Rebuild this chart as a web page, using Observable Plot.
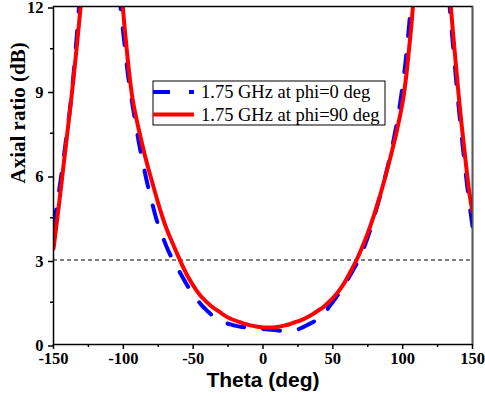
<!DOCTYPE html>
<html>
<head>
<meta charset="utf-8">
<script src="https://cdn.jsdelivr.net/npm/d3@7"></script>
<script src="https://cdn.jsdelivr.net/npm/@observablehq/plot@0.6"></script>
<style>
  html, body { margin: 0; padding: 0; background: #fff; }
  #chart { width: 485px; height: 402px; }
</style>
</head>
<body>
<div id="chart"></div>
<script>
// ---- Data ----
// Axial ratio (dB) vs Theta (deg). NaN separates curve branches that leave the 0–12 dB window.
const phi0Theta = [
  -150, -148, -146, -144, -142, -140, -138, -136, -134, -132, -130.5, NaN,
  -103, -101, -99, -97, -95, -93, -91, -89, -86, -83, -80, -76, -72, -68, -64, -60, -56, -52, -48, -44, -40, -36, -32, -28, -24, -20, -16, -12, -8, -4,
  0, 4, 8, 12, 16, 20, 24, 28, 32, 36, 40, 44, 48, 52, 56, 60, 64, 68, 72, 76, 80, 84, 88, 92, 96, 98, 100, 102, 104, 106, 107, NaN,
  133, 135, 137, 139, 141, 143, 145, 147, 149, 150
];
const phi0AR = [
  4.2, 4.8, 5.45, 6.15, 6.9, 7.65, 8.45, 9.4, 10.55, 11.8, 12.8, NaN,
  12.5, 11.5, 10.6, 9.7, 9.0, 8.37, 7.8, 7.2, 6.45, 5.75, 5.15, 4.4, 3.85, 3.35, 2.95, 2.6, 2.25, 1.92, 1.65, 1.4, 1.2, 1.02, 0.9, 0.8, 0.72, 0.67, 0.63, 0.61, 0.59, 0.57,
  0.55, 0.53, 0.51, 0.49, 0.48, 0.48, 0.52, 0.6, 0.7, 0.8, 0.92, 1.12, 1.38, 1.65, 1.93, 2.25, 2.6, 2.95, 3.4, 3.95, 4.6, 5.3, 6.05, 6.9, 7.9, 8.5, 9.2, 10.0, 11.0, 12.1, 12.6, NaN,
  12.4, 11.2, 10.1, 9.0, 8.0, 7.05, 6.15, 5.3, 4.55, 4.2
];

const phi90Theta = [
  -150, -148, -146, -144, -142, -140, -138, -136, -134, -132, -130, NaN,
  -101, -99, -97, -95, -93, -89, -85, -81, -77, -73, -69, -65, -61, -57, -53, -49, -45, -41, -37, -33, -29, -25, -21, -17, -13, -9, -5, -1,
  3, 7, 11, 15, 19, 23, 27, 31, 35, 39, 43, 47, 51, 55, 59, 63, 67, 71, 75, 79, 83, 87, 91, 95, 98, 100, 102, 104, 106, 108, NaN,
  134, 136, 138, 140, 142, 144, 146, 148, 150
];
const phi90AR = [
  3.4, 4.2, 5.0, 5.85, 6.7, 7.55, 8.4, 9.3, 10.25, 11.25, 12.3, NaN,
  12.4, 11.2, 10.2, 9.3, 8.6, 7.65, 6.8, 6.05, 5.35, 4.68, 4.1, 3.63, 3.17, 2.73, 2.34, 2.02, 1.75, 1.54, 1.36, 1.22, 1.08, 0.96, 0.87, 0.8, 0.73, 0.68, 0.64, 0.61,
  0.6, 0.605, 0.63, 0.67, 0.72, 0.79, 0.86, 0.95, 1.06, 1.19, 1.32, 1.5, 1.7, 1.95, 2.25, 2.62, 3.0, 3.45, 3.95, 4.52, 5.15, 5.85, 6.6, 7.4, 8.1, 8.6, 9.3, 10.2, 11.2, 12.4, NaN,
  12.3, 11.1, 10.0, 8.9, 7.9, 7.0, 6.1, 5.3, 4.7
];

const seriesNames = ["1.75 GHz at phi=0 deg", "1.75 GHz at phi=90 deg"];
const xMajorTicks = [-150, -100, -50, 0, 50, 100, 150];
const xMinorTicks = [-125, -75, -25, 25, 75, 125];
const yMajorTicks = [0, 3, 6, 9, 12];
const yMinorTicks = [1.5, 4.5, 7.5, 10.5];
const thresholdDB = [3];
const xTitle = "Theta (deg)";
const yTitle = "Axial ratio (dB)";

// ---- Build tables ----
const phi0 = phi0Theta.map((t, i) => ({theta: t, ar: phi0AR[i]}));
const phi90 = phi90Theta.map((t, i) => ({theta: t, ar: phi90AR[i]}));

const serif = "'Liberation Serif', 'Times New Roman', serif";
const sans = "'Liberation Sans', Arial, sans-serif";

const svg = Plot.plot({
  width: 485,
  height: 402,
  marginLeft: 53,
  marginRight: 13,
  marginTop: 6,
  marginBottom: 58,
  style: {fontFamily: serif, fontSize: "16px", fontWeight: "bold", background: "#fff", color: "#000", overflow: "visible"},
  x: {domain: [-150, 150]},
  y: {domain: [0, 12]},
  marks: [
    Plot.ruleY(thresholdDB, {stroke: "#000", strokeWidth: 1, strokeDasharray: "4,3"}),
    Plot.line(phi0, {x: "theta", y: "ar", stroke: "#0000ff", strokeWidth: 4, strokeDasharray: "17,19", curve: "catmull-rom", clip: true}),
    Plot.line(phi90, {x: "theta", y: "ar", stroke: "#ff0000", strokeWidth: 4, curve: "catmull-rom", clip: true}),
    Plot.frame({stroke: "#000", strokeWidth: 1.5}),
    Plot.ruleX([150], {stroke: "#555", strokeWidth: 1.5}),
    Plot.axisX(xMajorTicks, {tickSize: 5, tickPadding: 3, tickFormat: d => String(d), label: null, fontSize: 16.5, fontWeight: "bold", fontFamily: serif, strokeWidth: 1.5}),
    Plot.axisX(xMinorTicks, {tickSize: 3, tickFormat: () => "", label: null, strokeWidth: 1.5}),
    Plot.axisY(yMajorTicks, {tickSize: 5, tickPadding: 5, dy: 1.5, tickFormat: d => String(d), label: null, fontSize: 16.5, fontWeight: "bold", fontFamily: serif, strokeWidth: 1.5}),
    Plot.axisY(yMinorTicks, {tickSize: 3, tickFormat: () => "", label: null, strokeWidth: 1.5}),
    Plot.text([xTitle], {frameAnchor: "bottom", dy: 42, text: d => d, fontFamily: sans, fontWeight: "bold", fontSize: 21}),
    Plot.text([yTitle], {frameAnchor: "left", dx: -35, dy: 8, rotate: -90, text: d => d, fontFamily: serif, fontWeight: "bold", fontSize: 21})
  ]
});

// ---- Legend box (inside the plot area, upper centre) ----
const lg = d3.select(svg).append("g").attr("class", "legend").attr("text-anchor", "start");
lg.append("rect").attr("x", 153).attr("y", 81).attr("width", 232).attr("height", 44)
  .attr("fill", "#fff").attr("stroke", "#000").attr("stroke-width", 1);
const items = [
  {name: seriesNames[0], color: "#0000ff", dash: "17,19", y: 92},
  {name: seriesNames[1], color: "#ff0000", dash: null, y: 114.5}
];
items.forEach(it => {
  const ln = lg.append("line").attr("x1", 153).attr("x2", 194).attr("y1", it.y).attr("y2", it.y)
    .attr("stroke", it.color).attr("stroke-width", 4);
  if (it.dash) ln.attr("stroke-dasharray", it.dash);
  lg.append("text").attr("x", 201).attr("y", it.y).attr("dy", "0.35em")
    .attr("text-anchor", "start")
    .attr("font-family", serif).attr("font-size", 18.5).attr("font-weight", "normal")
    .attr("fill", "#000").text(it.name);
});

document.getElementById("chart").appendChild(svg);
</script>
</body>
</html>
